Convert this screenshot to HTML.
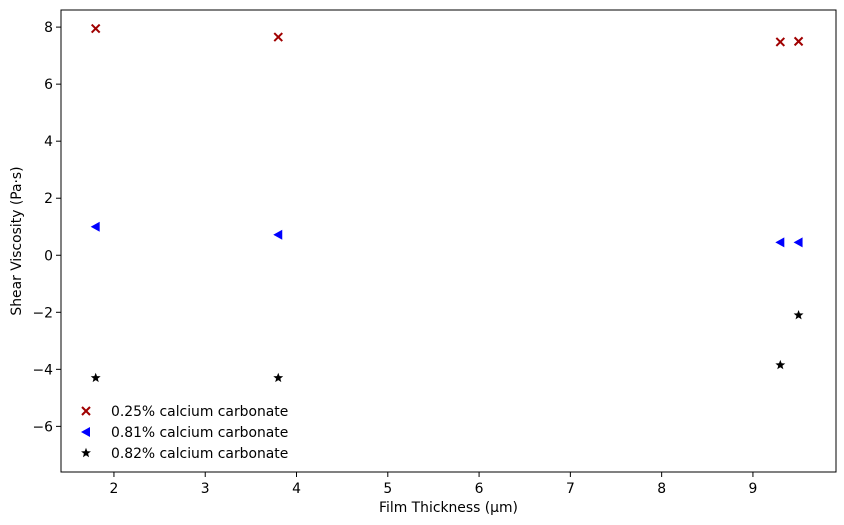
<!DOCTYPE html>
<html><head><meta charset="utf-8"><style>
html,body{margin:0;padding:0;background:#fff;}
svg{display:block;font-family:"DejaVu Sans","Liberation Sans",sans-serif;}
</style></head><body>
<svg id="chart" width="844" height="525"></svg>
<script>
const xValues=[1.8,3.8,9.3,9.5];
const series1=[7.95,7.65,7.48,7.5];
const series2=[1.0,0.72,0.45,0.45];
const series3=[-4.3,-4.3,-3.85,-2.1];
const seriesLabels=["0.25% calcium carbonate","0.81% calcium carbonate","0.82% calcium carbonate"];
const xTicks=[2,3,4,5,6,7,8,9];
const yTicks=[-6,-4,-2,0,2,4,6,8];
const FS=13.9;
const L=61,R=836,T=10,B=472,xmin=1.42,xmax=9.91,ymin=-7.6,ymax=8.6;
const X=v=>L+(v-xmin)/(xmax-xmin)*(R-L);
const Y=v=>B-(v-ymin)/(ymax-ymin)*(B-T);
const svg=document.getElementById('chart');
const NS='http://www.w3.org/2000/svg';
function mk(tag,attrs,parent){const e=document.createElementNS(NS,tag);for(const k in attrs)e.setAttribute(k,attrs[k]);(parent||svg).appendChild(e);return e;}
const frame=mk('rect',{x:L,y:T,width:R-L,height:B-T,fill:'none',stroke:'#000','stroke-width':1});


xTicks.forEach(t=>{const x=X(t);
const l=mk('line',{x1:x,x2:x,y1:B,y2:B+5,stroke:'#000'});


const tx=mk('text',{x:x,y:B+21,'text-anchor':'middle','font-size':FS});tx.textContent=t;

});
yTicks.forEach(t=>{const y=Y(t);
const l=mk('line',{x1:L-5,x2:L,y1:y,y2:y,stroke:'#000'});


const tx=mk('text',{x:L-8,y:y+5,'text-anchor':'end','font-size':FS});tx.textContent=(t<0?'\u2212'+(-t):t);

});
const xt=mk('text',{x:(L+R)/2,y:512,'text-anchor':'middle','font-size':FS});xt.textContent='Film Thickness (µm)';


const yt=mk('text',{x:0,y:0,'text-anchor':'middle','font-size':FS,transform:`translate(21,${(T+B)/2}) rotate(-90)`});yt.textContent='Shear Viscosity (Pa·s)';


function cross(x,y){const g=mk('g',{stroke:'#a00000','stroke-width':2});mk('line',{x1:x-4,y1:y-4,x2:x+4,y2:y+4},g);mk('line',{x1:x-4,y1:y+4,x2:x+4,y2:y-4},g);return g;}
function tri(x,y){return mk('polygon',{points:`${x-5},${y} ${x+4},${y-5} ${x+4},${y+5}`,fill:'#0000ff'});}
function star(x,y){let p=[];for(let i=0;i<10;i++){const r=i%2?2.2:5.2;const a=-Math.PI/2+i*Math.PI/5;p.push((x+r*Math.cos(a)).toFixed(2)+','+(y+r*Math.sin(a)).toFixed(2));}return mk('polygon',{points:p.join(' '),fill:'#000'});}
xValues.forEach((xv,i)=>{
let m=cross(X(xv),Y(series1[i]));


m=tri(X(xv),Y(series2[i]));


m=star(X(xv),Y(series3[i]));


});
const makers=[cross,tri,star];
seriesLabels.forEach((s,i)=>{const y=411+i*21;
const m=makers[i](86,y);


const t=mk('text',{x:111,y:y+5,'font-size':FS});t.textContent=s;

});
</script>
</body></html>
